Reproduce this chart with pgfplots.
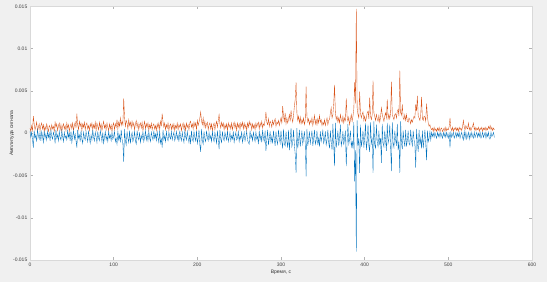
\documentclass[border=0pt]{standalone}
\usepackage{fontspec}
\setmainfont{Liberation Sans}
\usepackage{pgfplots}
\usepackage{pgfplotstable}
\pgfplotsset{compat=1.18}
\usetikzlibrary{backgrounds}
\definecolor{mblue}{HTML}{0072BD}
\definecolor{morange}{HTML}{D95319}
\definecolor{figbg}{HTML}{F0F0F0}
\pgfplotstableread{
t b o
0 0.0002 0.0006
1 -0.0005 0.0002
2 0.0001 0.0009
3 -0.0008 0.0003
4 -0.0017 0.0020
5 0.0003 0.0011
6 -0.0006 0.0004
7 -0.0002 0.0008
8 -0.0010 0.0013
9 0.0004 0.0002
10 -0.0003 0.0007
11 -0.0007 0.0011
12 0.0001 0.0003
13 -0.0009 0.0009
14 0.0002 0.0012
15 -0.0004 0.0005
16 -0.0011 0.0010
17 0.0003 0.0002
18 -0.0006 0.0008
19 -0.0001 0.0004
20 -0.0008 0.0011
21 0.0002 0.0006
22 -0.0005 0.0002
23 0.0000 0.0009
24 -0.0009 0.0007
25 0.0003 0.0003
26 -0.0004 0.0010
27 -0.0007 0.0005
28 0.0001 0.0008
29 -0.0003 0.0002
30 -0.0012 0.0013
31 0.0004 0.0007
32 -0.0006 0.0011
33 -0.0002 0.0003
34 -0.0009 0.0009
35 0.0002 0.0012
36 -0.0005 0.0004
37 -0.0008 0.0010
38 0.0003 0.0002
39 -0.0004 0.0008
40 -0.0010 0.0011
41 0.0001 0.0005
42 -0.0006 0.0009
43 -0.0003 0.0003
44 -0.0008 0.0012
45 0.0004 0.0006
46 -0.0005 0.0010
47 0.0000 0.0002
48 -0.0009 0.0008
49 0.0002 0.0011
50 -0.0011 0.0005
51 -0.0004 0.0012
52 0.0003 0.0003
53 -0.0007 0.0009
54 -0.0001 0.0013
55 -0.0009 0.0006
56 -0.0017 0.0023
57 0.0004 0.0010
58 -0.0006 0.0004
59 -0.0002 0.0014
60 -0.0010 0.0008
61 0.0003 0.0012
62 -0.0007 0.0003
63 -0.0012 0.0011
64 0.0001 0.0007
65 -0.0005 0.0013
66 -0.0008 0.0004
67 0.0002 0.0010
68 -0.0004 0.0012
69 -0.0010 0.0005
70 0.0003 0.0009
71 -0.0006 0.0003
72 -0.0012 0.0011
73 -0.0002 0.0007
74 -0.0008 0.0012
75 0.0004 0.0004
76 -0.0005 0.0010
77 -0.0009 0.0006
78 0.0001 0.0013
79 -0.0004 0.0003
80 -0.0011 0.0012
81 0.0002 0.0008
82 -0.0006 0.0004
83 -0.0009 0.0013
84 0.0003 0.0006
85 -0.0003 0.0011
86 -0.0010 0.0003
87 0.0001 0.0009
88 -0.0012 0.0014
89 -0.0005 0.0006
90 0.0002 0.0010
91 -0.0008 0.0004
92 -0.0003 0.0012
93 -0.0010 0.0007
94 0.0003 0.0003
95 -0.0006 0.0011
96 -0.0002 0.0005
97 -0.0009 0.0010
98 0.0001 0.0002
99 -0.0007 0.0009
100 -0.0004 0.0012
101 0.0002 0.0004
102 -0.0010 0.0011
103 -0.0006 0.0007
104 -0.0013 0.0016
105 0.0003 0.0005
106 -0.0008 0.0013
107 -0.0002 0.0008
108 -0.0011 0.0018
109 0.0004 0.0009
110 -0.0007 0.0014
111 -0.0012 0.0010
112 -0.0034 0.0041
113 0.0005 0.0019
114 -0.0009 0.0008
115 -0.0014 0.0015
116 0.0002 0.0012
117 -0.0006 0.0005
118 -0.0011 0.0016
119 0.0003 0.0009
120 -0.0012 0.0013
121 -0.0004 0.0006
122 0.0001 0.0014
123 -0.0010 0.0008
124 -0.0006 0.0012
125 0.0002 0.0004
126 -0.0009 0.0011
127 -0.0013 0.0015
128 0.0003 0.0007
129 -0.0005 0.0012
130 -0.0008 0.0004
131 0.0001 0.0010
132 -0.0011 0.0012
133 -0.0003 0.0006
134 -0.0007 0.0013
135 0.0002 0.0003
136 -0.0010 0.0009
137 -0.0005 0.0014
138 0.0003 0.0005
139 -0.0008 0.0011
140 -0.0002 0.0007
141 -0.0009 0.0012
142 0.0002 0.0003
143 -0.0006 0.0010
144 -0.0010 0.0006
145 0.0001 0.0012
146 -0.0004 0.0004
147 -0.0008 0.0009
148 0.0003 0.0011
149 -0.0006 0.0005
150 -0.0001 0.0009
151 -0.0009 0.0003
152 0.0002 0.0011
153 -0.0005 0.0006
154 -0.0011 0.0012
155 0.0003 0.0004
156 -0.0012 0.0014
157 -0.0007 0.0009
158 -0.0017 0.0023
159 0.0004 0.0013
160 -0.0008 0.0007
161 -0.0003 0.0012
162 -0.0010 0.0004
163 0.0002 0.0010
164 -0.0006 0.0006
165 -0.0009 0.0012
166 0.0001 0.0003
167 -0.0004 0.0009
168 -0.0007 0.0011
169 0.0002 0.0004
170 -0.0008 0.0010
171 -0.0003 0.0005
172 0.0001 0.0011
173 -0.0009 0.0003
174 -0.0005 0.0009
175 0.0002 0.0006
176 -0.0007 0.0012
177 -0.0002 0.0004
178 -0.0010 0.0010
179 0.0003 0.0007
180 -0.0005 0.0011
181 -0.0009 0.0003
182 0.0001 0.0009
183 -0.0006 0.0012
184 -0.0011 0.0005
185 0.0003 0.0010
186 -0.0004 0.0003
187 -0.0008 0.0012
188 0.0002 0.0007
189 -0.0006 0.0010
190 -0.0011 0.0004
191 -0.0002 0.0012
192 -0.0013 0.0014
193 0.0003 0.0007
194 -0.0007 0.0011
195 -0.0010 0.0005
196 0.0002 0.0013
197 -0.0005 0.0008
198 -0.0009 0.0012
199 0.0003 0.0004
200 -0.0012 0.0015
201 -0.0006 0.0009
202 0.0004 0.0013
203 -0.0014 0.0018
204 -0.0022 0.0025
205 0.0005 0.0014
206 -0.0009 0.0010
207 -0.0013 0.0018
208 0.0002 0.0008
209 -0.0007 0.0014
210 -0.0010 0.0006
211 0.0003 0.0011
212 -0.0005 0.0013
213 -0.0009 0.0004
214 0.0001 0.0010
215 -0.0007 0.0012
216 -0.0003 0.0005
217 -0.0010 0.0011
218 0.0002 0.0003
219 -0.0006 0.0009
220 -0.0010 0.0012
221 0.0001 0.0004
222 -0.0005 0.0010
223 -0.0012 0.0014
224 0.0003 0.0007
225 -0.0008 0.0015
226 -0.0019 0.0022
227 0.0004 0.0011
228 -0.0007 0.0006
229 -0.0011 0.0013
230 0.0002 0.0008
231 -0.0006 0.0012
232 -0.0009 0.0004
233 0.0001 0.0010
234 -0.0004 0.0006
235 -0.0008 0.0011
236 0.0003 0.0003
237 -0.0010 0.0012
238 -0.0005 0.0007
239 0.0001 0.0010
240 -0.0009 0.0005
241 -0.0003 0.0012
242 -0.0007 0.0004
243 0.0002 0.0010
244 -0.0011 0.0013
245 -0.0004 0.0006
246 0.0001 0.0011
247 -0.0008 0.0003
248 -0.0006 0.0012
249 0.0002 0.0007
250 -0.0010 0.0011
251 -0.0003 0.0004
252 -0.0007 0.0012
253 0.0002 0.0008
254 -0.0011 0.0013
255 -0.0005 0.0005
256 0.0001 0.0012
257 -0.0009 0.0006
258 -0.0004 0.0010
259 0.0002 0.0003
260 -0.0008 0.0012
261 -0.0011 0.0007
262 -0.0013 0.0014
263 0.0003 0.0009
264 -0.0006 0.0012
265 -0.0002 0.0004
266 -0.0009 0.0011
267 0.0001 0.0006
268 -0.0005 0.0010
269 -0.0010 0.0004
270 0.0002 0.0012
271 -0.0007 0.0007
272 -0.0004 0.0011
273 -0.0013 0.0013
274 0.0003 0.0005
275 -0.0008 0.0012
276 -0.0002 0.0008
277 -0.0011 0.0014
278 0.0004 0.0006
279 -0.0006 0.0011
280 -0.0010 0.0009
281 0.0003 0.0016
282 -0.0021 0.0025
283 -0.0008 0.0013
284 0.0004 0.0010
285 -0.0014 0.0017
286 -0.0006 0.0008
287 0.0002 0.0014
288 -0.0011 0.0012
289 -0.0004 0.0007
290 -0.0012 0.0015
291 0.0003 0.0010
292 -0.0007 0.0014
293 -0.0015 0.0017
294 0.0002 0.0008
295 -0.0009 0.0013
296 -0.0013 0.0011
297 0.0004 0.0015
298 -0.0006 0.0009
299 -0.0012 0.0014
300 0.0003 0.0018
301 -0.0010 0.0012
302 -0.0018 0.0032
303 0.0005 0.0020
304 -0.0013 0.0014
305 -0.0015 0.0024
306 0.0002 0.0011
307 -0.0009 0.0018
308 -0.0017 0.0012
309 0.0004 0.0016
310 -0.0020 0.0022
311 -0.0007 0.0014
312 0.0006 0.0027
313 -0.0016 0.0018
314 -0.0011 0.0013
315 0.0004 0.0021
316 -0.0014 0.0032
317 -0.0025 0.0040
318 -0.0047 0.0060
319 0.0006 0.0024
320 -0.0018 0.0015
321 -0.0009 0.0020
322 0.0004 0.0012
323 -0.0016 0.0019
324 -0.0007 0.0011
325 0.0003 0.0016
326 -0.0013 0.0012
327 -0.0006 0.0018
328 0.0002 0.0010
329 -0.0012 0.0015
330 -0.0051 0.0055
331 0.0005 0.0020
332 -0.0015 0.0013
333 -0.0008 0.0017
334 0.0002 0.0010
335 -0.0012 0.0015
336 -0.0005 0.0012
337 0.0003 0.0018
338 -0.0015 0.0009
339 -0.0007 0.0014
340 0.0004 0.0021
341 -0.0013 0.0011
342 -0.0009 0.0016
343 0.0003 0.0010
344 -0.0014 0.0017
345 -0.0006 0.0012
346 -0.0016 0.0021
347 0.0002 0.0013
348 -0.0010 0.0016
349 -0.0004 0.0009
350 0.0003 0.0013
351 -0.0012 0.0010
352 -0.0007 0.0016
353 0.0002 0.0009
354 -0.0014 0.0014
355 -0.0008 0.0018
356 0.0004 0.0010
357 -0.0011 0.0015
358 -0.0018 0.0016
359 0.0003 0.0024
360 -0.0010 0.0030
361 -0.0020 0.0018
362 0.0011 0.0022
363 -0.0013 0.0035
364 -0.0039 0.0057
365 0.0012 0.0024
366 -0.0017 0.0016
367 -0.0008 0.0020
368 0.0003 0.0013
369 -0.0015 0.0018
370 -0.0006 0.0012
371 0.0010 0.0022
372 -0.0015 0.0016
373 -0.0009 0.0013
374 0.0002 0.0020
375 -0.0014 0.0012
376 -0.0006 0.0018
377 0.0003 0.0015
378 -0.0039 0.0041
379 -0.0010 0.0020
380 0.0011 0.0014
381 -0.0013 0.0019
382 -0.0007 0.0010
383 0.0003 0.0016
384 -0.0016 0.0022
385 -0.0010 0.0014
386 -0.0018 0.0020
387 0.0013 0.0028
388 -0.0057 0.0060
389 -0.0020 0.0035
390 -0.0140 0.0147
391 0.0015 0.0030
392 -0.0015 0.0022
393 -0.0006 0.0018
394 -0.0047 0.0049
395 0.0010 0.0024
396 -0.0016 0.0018
397 -0.0009 0.0022
398 0.0003 0.0025
399 -0.0017 0.0015
400 -0.0006 0.0020
401 0.0012 0.0014
402 -0.0020 0.0018
403 -0.0010 0.0024
404 0.0010 0.0026
405 -0.0015 0.0017
406 -0.0022 0.0042
407 0.0013 0.0020
408 -0.0012 0.0016
409 -0.0007 0.0022
410 -0.0047 0.0062
411 0.0014 0.0024
412 -0.0014 0.0020
413 -0.0018 0.0015
414 0.0010 0.0022
415 -0.0010 0.0017
416 -0.0016 0.0014
417 0.0003 0.0021
418 -0.0014 0.0013
419 -0.0006 0.0019
420 -0.0035 0.0030
421 0.0011 0.0022
422 -0.0012 0.0018
423 -0.0016 0.0014
424 0.0003 0.0020
425 -0.0009 0.0024
426 -0.0021 0.0018
427 0.0012 0.0040
428 -0.0012 0.0017
429 -0.0007 0.0022
430 0.0010 0.0017
431 -0.0016 0.0024
432 -0.0045 0.0061
433 0.0013 0.0021
434 -0.0012 0.0019
435 -0.0017 0.0016
436 0.0003 0.0022
437 -0.0008 0.0023
438 -0.0015 0.0018
439 0.0011 0.0026
440 -0.0020 0.0028
441 -0.0010 0.0020
442 -0.0047 0.0074
443 0.0014 0.0024
444 -0.0012 0.0021
445 -0.0019 0.0034
446 0.0003 0.0018
447 -0.0009 0.0016
448 -0.0016 0.0022
449 0.0004 0.0015
450 -0.0016 0.0022
451 -0.0008 0.0014
452 0.0003 0.0013
453 -0.0012 0.0018
454 -0.0014 0.0016
455 0.0004 0.0011
456 -0.0009 0.0016
457 -0.0015 0.0013
458 0.0003 0.0017
459 -0.0008 0.0020
460 -0.0013 0.0018
461 -0.0041 0.0034
462 0.0005 0.0026
463 -0.0011 0.0044
464 -0.0022 0.0020
465 0.0004 0.0018
466 -0.0014 0.0015
467 -0.0006 0.0022
468 -0.0018 0.0043
469 0.0003 0.0017
470 -0.0018 0.0015
471 -0.0007 0.0020
472 0.0004 0.0019
473 -0.0012 0.0014
474 -0.0032 0.0035
475 0.0003 0.0020
476 -0.0010 0.0012
477 -0.0006 0.0008
478 0.0002 0.0010
479 -0.0008 0.0006
480 0.0001 0.0004
481 -0.0004 0.0006
482 0.0000 0.0002
483 -0.0005 0.0007
484 0.0001 0.0003
485 -0.0003 0.0005
486 -0.0006 0.0002
487 0.0001 0.0006
488 -0.0004 0.0003
489 0.0000 0.0007
490 -0.0005 0.0002
491 0.0001 0.0005
492 -0.0003 0.0006
493 -0.0006 0.0002
494 0.0001 0.0004
495 -0.0004 0.0006
496 0.0000 0.0002
497 -0.0005 0.0007
498 0.0001 0.0003
499 -0.0003 0.0005
500 -0.0006 0.0004
501 0.0001 0.0008
502 -0.0017 0.0018
503 0.0002 0.0006
504 -0.0005 0.0003
505 -0.0002 0.0007
506 0.0001 0.0002
507 -0.0006 0.0006
508 -0.0003 0.0004
509 0.0001 0.0007
510 -0.0005 0.0003
511 0.0000 0.0006
512 -0.0004 0.0002
513 0.0001 0.0007
514 -0.0006 0.0004
515 -0.0002 0.0006
516 0.0001 0.0003
517 -0.0005 0.0008
518 -0.0008 0.0015
519 0.0002 0.0007
520 -0.0006 0.0004
521 0.0001 0.0009
522 -0.0007 0.0006
523 -0.0003 0.0005
524 0.0001 0.0012
525 -0.0007 0.0004
526 0.0000 0.0007
527 -0.0005 0.0003
528 0.0001 0.0006
529 -0.0004 0.0008
530 -0.0006 0.0012
531 0.0001 0.0004
532 -0.0005 0.0007
533 -0.0002 0.0003
534 0.0001 0.0006
535 -0.0005 0.0004
536 0.0000 0.0007
537 -0.0004 0.0002
538 0.0001 0.0006
539 -0.0006 0.0004
540 -0.0003 0.0007
541 0.0001 0.0002
542 -0.0005 0.0006
543 -0.0002 0.0004
544 0.0001 0.0007
545 -0.0006 0.0003
546 0.0000 0.0006
547 -0.0004 0.0004
548 0.0001 0.0008
549 -0.0007 0.0005
550 -0.0007 0.0009
551 0.0001 0.0004
552 -0.0004 0.0007
553 -0.0002 0.0003
554 0.0001 0.0006
555 -0.0005 0.0004
}\sig
\begin{document}
\begin{tikzpicture}
\begin{axis}[
  scale only axis,
  width=502bp, height=253.7bp,
  xmin=0, xmax=600, ymin=-0.015, ymax=0.015,
  xtick={0,100,200,300,400,500,600},
  xticklabels={0,100,200,300,400,500,600},
  ytick={-0.015,-0.01,-0.005,0,0.005,0.01,0.015},
  yticklabels={-0.015,-0.01,-0.005,0,0.005,0.01,0.015},
  scaled y ticks=false,
  tick align=inside,
  major tick length=3bp,
  tick style={black!30, line width=0.4bp},
  axis line style={black!15, line width=0.5bp},
  axis background/.style={fill=white},
  tick label style={font=\fontsize{5bp}{6bp}\selectfont, text=black!75, inner sep=0pt},
  yticklabel style={xshift=-2.5bp},
  xticklabel style={yshift=-3bp},
  label style={font=\fontsize{5bp}{6bp}\selectfont, text=black!80, inner sep=0pt},
  xlabel={Время, с},
  ylabel={Амплитуда сигнала},
  xlabel style={at={(axis description cs:0.5,-0.0485)}, anchor=center},
  ylabel style={at={(axis description cs:-0.0359,0.5)}, anchor=center},
]
\addplot[morange, line width=0.35bp] table[x=t, y=o] {\sig};
\addplot[mblue, line width=0.35bp] table[x=t, y=b] {\sig};
\end{axis}
\begin{scope}[on background layer]
\fill[figbg] ([xshift=-30bp,yshift=-22bp]current axis.south west) rectangle ([xshift=15bp,yshift=6.3bp]current axis.north east);
\end{scope}
\end{tikzpicture}
\end{document}
